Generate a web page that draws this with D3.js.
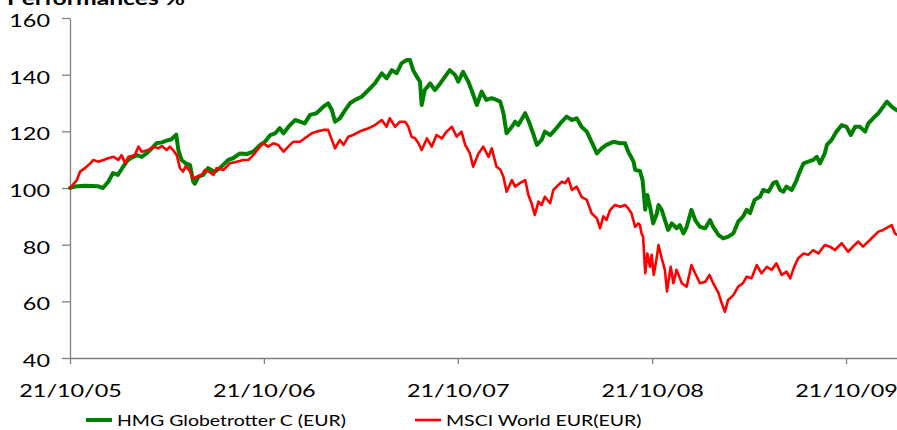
<!DOCTYPE html>
<html>
<head>
<meta charset="utf-8">
<script src="https://cdn.jsdelivr.net/npm/d3@7"></script>
<style>
  html, body { margin: 0; padding: 0; background: #fff; }
  svg { display: block; }
  text { font-family: Lato, "Open Sans", sans-serif; fill: #000; }
</style>
</head>
<body>
<svg id="chart" width="897" height="430"></svg>
<script>
// ---- DATA ----
const startDate = "2005-10-21";
const endDate = "2010-01-25";
const title = "Performances %";
const seriesNames = ["HMG Globetrotter C (EUR)", "MSCI World EUR(EUR)"];
const xTickLabels = ["2005-10-21", "2006-10-21", "2007-10-21", "2008-10-21", "2009-10-21"];
const yTicks = [40, 60, 80, 100, 120, 140, 160];

// HMG Globetrotter C (EUR): days since 21/10/05 and performance (base 100)
const hmgDays = [0,9,28,41,53,62,72,81,90,100,109,119,126,135,144,154,163,173,182,191,200,204,210,217,226,232,235,242,251,260,270,273,282,298,307,320,333,345,358,367,377,386,395,402,414,424,433,442,452,464,477,486,493,499,508,518,527,537,549,562,574,587,596,606,615,624,634,640,646,653,659,662,668,678,687,697,706,715,725,731,740,750,756,766,775,784,794,803,810,816,822,832,838,844,857,864,873,879,888,894,904,913,923,935,945,954,963,973,982,992,1001,1010,1023,1036,1045,1051,1061,1064,1073,1078,1083,1087,1092,1098,1105,1108,1114,1120,1126,1133,1142,1148,1155,1161,1170,1177,1186,1196,1205,1211,1221,1230,1239,1249,1258,1267,1274,1280,1289,1299,1305,1315,1324,1330,1337,1343,1349,1359,1368,1374,1381,1390,1399,1406,1412,1421,1425,1434,1443,1453,1462,1470,1478,1487,1497,1503,1512,1522,1531,1538,1547,1556];
const hmgPerf = [100,100.5,100.8,100.7,100.6,100.0,102.2,105.3,104.6,107.5,109.9,111,111.6,111,112.2,114,115.8,116.1,116.7,117.2,118.8,113.4,109.9,108.8,108.1,102.2,101.5,104,104.6,107,106,105.8,107,109.9,110.5,112.2,112,112.8,115.2,116.3,118.7,119.3,121.1,119.3,122.2,124,123.4,122.8,125.8,126.4,128.7,129.9,127.5,123.4,124.6,127.5,129.9,131.1,132.2,134.6,136.9,140.5,138.7,141.6,140.5,144,145.2,145.2,141.6,139.3,137.5,129.3,134.6,136.9,134.6,136.9,139.3,141.6,139.9,137.5,141,137.5,134.6,129.3,134,131.1,131.7,131.1,130.5,126.4,119.3,121.6,123.4,122.2,126.4,123.4,118.7,115.2,117,119.9,118.7,120.5,122.8,125.2,124,124.6,121.6,119.9,116.3,112.2,114,115.2,116.3,115.8,115.8,112.8,109.3,106.4,106,102.8,92.3,97.5,93.4,87.5,91.1,94,92.3,88.7,85.2,87.5,85.8,86.9,84,86.3,92.3,88.7,86.3,85.8,88.7,86.3,83.4,82.2,82.8,84,88.1,89.9,92.3,91.1,95.8,96.9,99.3,98.7,101.7,102.2,99.3,98.7,100.5,99.3,102.8,105.8,108.7,109.3,109.9,111,108.7,112.2,115.2,117,119.9,122.2,121.6,118.7,121.6,121.6,119.9,122.8,124.6,126.4,128.7,130.5,128.7,127.5];

// MSCI World EUR(EUR): days since 21/10/05 and performance (base 100)
const msciDays = [0,13,19,28,38,44,53,63,72,82,91,97,104,110,122,129,135,147,157,166,173,182,188,194,201,207,213,218,226,232,239,248,254,264,270,276,289,301,314,326,336,345,355,364,373,383,392,402,411,420,433,446,455,464,477,486,493,499,508,515,524,533,546,562,574,587,596,602,612,621,631,637,643,650,656,662,672,681,690,700,709,719,728,737,744,753,759,769,778,788,794,803,810,816,822,832,838,847,857,863,869,875,882,888,894,904,910,919,926,932,938,945,954,963,973,982,992,998,1004,1010,1017,1026,1036,1045,1051,1057,1064,1070,1073,1076,1079,1083,1087,1092,1095,1099,1105,1108,1114,1120,1124,1131,1136,1142,1152,1161,1170,1177,1186,1196,1204,1211,1221,1227,1233,1239,1249,1258,1267,1274,1283,1293,1302,1312,1321,1330,1340,1349,1356,1363,1371,1381,1390,1399,1409,1421,1431,1440,1453,1465,1474,1484,1493,1503,1512,1522,1531,1541,1547,1553,1557];
const msciPerf = [100,102.8,105.8,107,108.7,109.9,109.3,109.9,110.5,111,109.9,111.6,108.7,111,111.6,114.6,112.8,113.4,114.6,114,114.8,113.4,114.6,113.4,111.6,107,105.8,107.8,105.8,103.4,104,104.6,106.4,105.5,104.6,107,106.4,108.7,109.3,109.9,109.9,111.6,114,115.8,114.6,115.8,115.2,112.8,114.6,116.3,116.3,118.1,119.3,119.9,120.5,120.5,117,114,117,115.2,118.1,118.7,120,121.1,122.2,124,121.6,124.6,121.6,123.4,123.4,121.6,118.1,117.5,115.8,113.4,117.5,114.6,118.7,117.5,119.9,121.6,118.1,119.9,115.2,112.2,107.5,112.2,114.6,111,114,107.5,106.5,104,98.7,102.8,100.5,101.7,102.8,97.5,94.6,90.5,95.2,94,96.9,94.6,99.3,101,102.2,101.7,103.4,99.3,100.5,96.9,95.8,91.1,89.3,85.8,90,88.7,92.3,94,93.4,94,92.8,91.1,86.3,87.5,86.9,84,82.8,69.9,76.9,72.2,76.4,69.3,75.8,79.9,75.2,71.1,63.5,72.2,66.4,71.1,66.4,65.2,72.8,69.9,66.4,66.9,69.3,66.4,62.9,59.3,56.3,60.5,62.2,65.2,66.4,68.7,68.1,72.8,69.9,72.2,71.1,73.4,69.3,70.5,68.1,72,75.2,76.9,76.4,78.1,76.9,79.9,79.3,78.1,80.5,77.5,79.3,81.1,79.3,81.1,82.8,84.6,85.2,86.3,86.9,84,83.5];

const colors = ["#008000", "#ff0000"];

// ---- CHART ----
const svg = d3.select("#chart");
const parse = d3.timeParse("%Y-%m-%d");
const t0 = parse(startDate);
const margin = { left: 70, right: 0, top: 18, bottom: 72 };
const W = 897, H = 430;

const x = d3.scaleTime().domain([t0, parse(endDate)]).range([margin.left, W - margin.right]);
const y = d3.scaleLinear().domain([40, 160]).range([H - margin.bottom, margin.top]);

const toPoints = (days, vals) => days.map((d, i) => ({ date: d3.timeDay.offset(t0, d), v: vals[i] }));
const series = [
  { name: seriesNames[0], pts: toPoints(hmgDays, hmgPerf), color: colors[0], width: 4 },
  { name: seriesNames[1], pts: toPoints(msciDays, msciPerf), color: colors[1], width: 2.6 }
];

const axisColor = "#7f7f7f";
const STRETCH = 1.3;

// Y axis
const yAxis = svg.append("g")
  .attr("transform", `translate(${margin.left},0)`)
  .call(d3.axisLeft(y).tickValues(yTicks).tickSize(8).tickSizeOuter(0).tickFormat(d3.format("d")));
yAxis.select(".domain").attr("stroke", axisColor).attr("stroke-width", 1.3);
yAxis.selectAll(".tick line").attr("stroke", axisColor).attr("stroke-width", 1.3);
yAxis.selectAll(".tick text")
  .attr("x", 0).attr("dy", null).attr("y", 0)
  .attr("transform", `translate(-20,8.5) scale(${STRETCH},1)`)
  .style("font-size", "18px").style("font-family", "Lato").attr("fill", "#000");

// X axis
const xAxis = svg.append("g")
  .attr("transform", `translate(0,${y(40)})`)
  .call(d3.axisBottom(x).tickValues(xTickLabels.map(parse)).tickSize(6).tickSizeOuter(0).tickFormat(d3.timeFormat("%d/%m/%y")));
xAxis.select(".domain").attr("stroke", axisColor).attr("stroke-width", 1.3);
xAxis.selectAll(".tick line").attr("stroke", axisColor).attr("stroke-width", 1.3);
xAxis.selectAll(".tick text")
  .attr("y", 0).attr("dy", null)
  .attr("transform", `translate(0,39) scale(${STRETCH},1)`)
  .style("font-size", "18px").style("font-family", "Lato").attr("fill", "#000");

// Lines
const line = d3.line().x(d => x(d.date)).y(d => y(d.v)).curve(d3.curveLinear);
series.forEach(s => {
  svg.append("path")
    .datum(s.pts)
    .attr("fill", "none")
    .attr("stroke", s.color)
    .attr("stroke-width", s.width)
    .attr("stroke-linejoin", "round")
    .attr("stroke-linecap", "round")
    .attr("d", line);
});

// Title (cut off at the top like the reference)
svg.append("text")
  .attr("transform", `translate(7,5) scale(${STRETCH},1)`)
  .style("font-size", "19px").style("font-weight", "bold")
  .text(title);

// Legend
const legendItems = [
  { name: seriesNames[0], color: colors[0], x: 86, w: 4 },
  { name: seriesNames[1], color: colors[1], x: 415, w: 2.6 }
];
const lg = svg.append("g");
legendItems.forEach(it => {
  lg.append("line")
    .attr("x1", it.x).attr("x2", it.x + 26)
    .attr("y1", 420).attr("y2", 420)
    .attr("stroke", it.color).attr("stroke-width", it.w);
  lg.append("text")
    .attr("transform", `translate(${it.x + 31},426) scale(${STRETCH},1)`)
    .style("font-size", "15px")
    .text(it.name);
});
</script>
</body>
</html>
